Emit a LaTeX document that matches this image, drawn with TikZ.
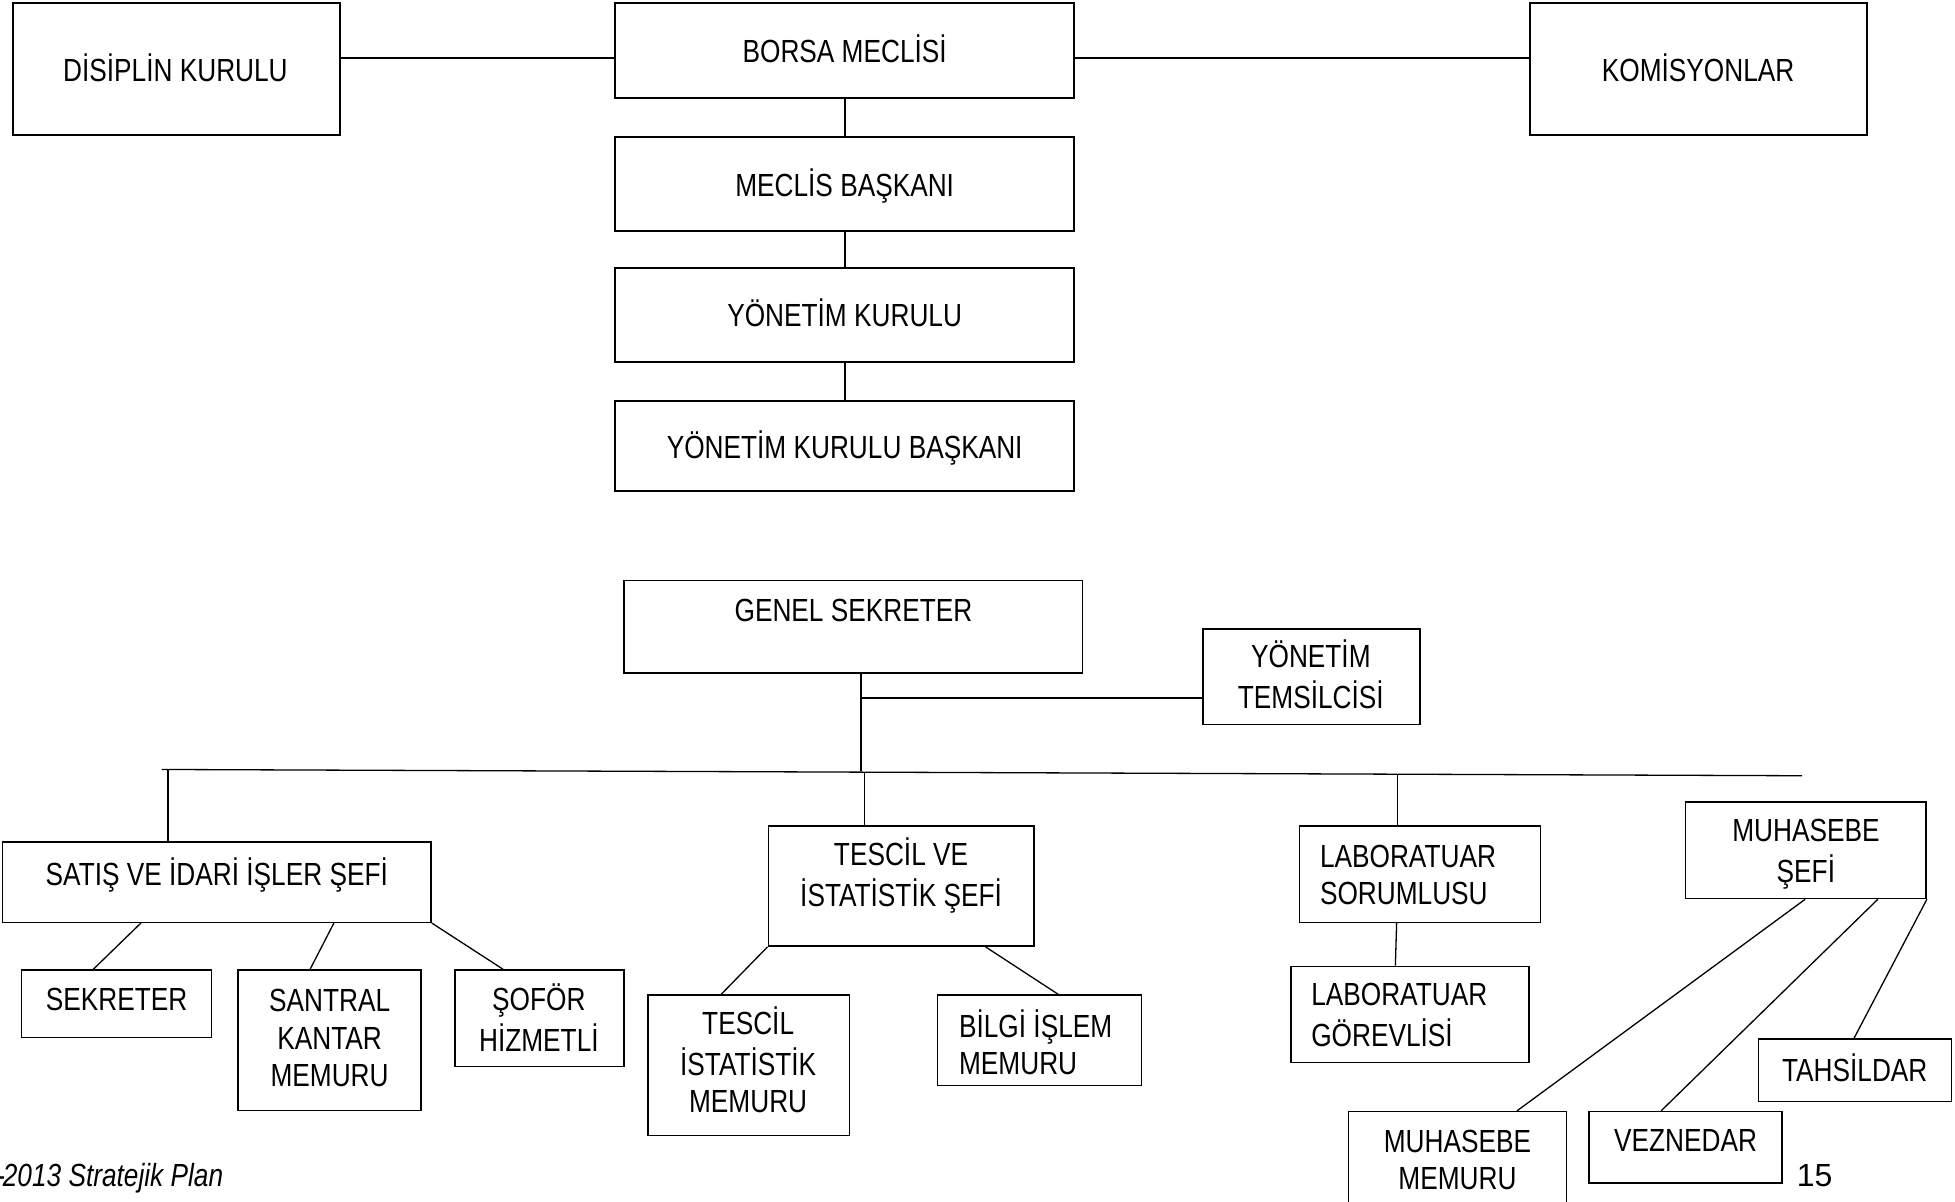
\documentclass[tikz,border=0pt]{standalone}
\usepackage{fontspec}
\setmainfont{Liberation Sans}[FakeStretch=0.82]
\newfontfamily\plainfont{Liberation Sans}
\usetikzlibrary{fit,calc}
\newcommand{\lbl}{\fontsize{16}{18.6}\selectfont}
\tikzset{
  boxU/.style={draw, line width=1pt, inner sep=0pt},
  boxL/.style={draw, line width=0.7pt, inner sep=0pt},
  conU/.style={line width=0.95pt},
  conL/.style={line width=0.65pt},
  txt/.style={inner sep=0pt, align=center, font=\lbl, yshift=-2pt},
  txtl/.style={inner sep=0pt, align=left, font=\lbl, yshift=-2pt, anchor=west},
}
\newcommand{\mkbox}[6]{\node[#1, fit={(#3,#4) (#5,#6)}] (#2) {};}
\begin{document}
\begin{tikzpicture}[x=0.6266pt,y=-0.6266pt]
\useasboundingbox (0,0) rectangle (1560,958.4);
\clip (0,0) rectangle (1560,958.4);
% ---------- upper part ----------
\mkbox{boxU}{dis}{10}{2}{271}{108}
\mkbox{boxU}{bm}{491}{2}{857}{78}
\mkbox{boxU}{kom}{1221}{2}{1490}{108}
\mkbox{boxU}{mb}{491}{109}{857}{184}
\mkbox{boxU}{yk}{491}{214}{857}{289}
\mkbox{boxU}{ykb}{491}{320}{857}{392}
\node[txt] (dis-t) at (140,55) {\strut DİSİPLİN KURULU};
\node[txt] (bm-t) at (674,40) {\strut BORSA MECLİSİ};
\node[txt] (kom-t) at (1355,55) {\strut KOMİSYONLAR};
\node[txt] (mb-t) at (674,147) {\strut MECLİS BAŞKANI};
\node[txt] (yk-t) at (674,251) {\strut YÖNETİM KURULU};
\node[txt] (ykb-t) at (674,356) {\strut YÖNETİM KURULU BAŞKANI};
\draw[conU] ($(dis.east)+(0,-9)$) -- ($(bm.west)+(0,6)$);
\draw[conU] ($(bm.east)+(0,6)$) -- ($(kom.west)+(0,-9)$);
\draw[conU] (bm.south) -- (mb.north);
\draw[conU] (mb.south) -- (yk.north);
\draw[conU] (yk.south) -- (ykb.north);
% ---------- lower part ----------
\mkbox{boxL}{gs}{498}{463}{864}{537}
\mkbox{boxL}{yt}{960}{502}{1133}{578}
\node[txt] (gs-t) at (681,487) {\strut GENEL SEKRETER};
\node[txt] (yt-t) at (1046,539.5) {\strut YÖNETİM\\\strut TEMSİLCİSİ};
\coordinate (gsb) at (687,615);
\coordinate (yj) at (687,557);
\draw[conL] (gsb |- gs.south) -- (gsb);
\draw[conL] (yj) -- (yj -| yt.west);
\coordinate (busL) at (129,614);
\coordinate (busR) at (1438,619);
\draw[conL] (busL) -- (busR);
% heads
\mkbox{boxL}{sat}{2}{672}{344}{736}
\mkbox{boxL}{tis}{613}{659}{825}{755}
\mkbox{boxL}{ls}{1037}{659}{1229}{736}
\mkbox{boxL}{ms}{1345}{640}{1537}{717}
\node[txt] (sat-t) at (173,697) {\strut SATIŞ VE İDARİ İŞLER ŞEFİ};
\node[txt] (tis-t) at (719,697.5) {\strut TESCİL VE\\\strut İSTATİSTİK ŞEFİ};
\node[txtl] (ls-t) at (1053,698) {\strut LABORATUAR\\\strut SORUMLUSU};
\node[txt] (ms-t) at (1441,678.5) {\strut MUHASEBE\\\strut ŞEFİ};
\coordinate (d1) at (134,614);
\coordinate (d2) at (690,616);
\coordinate (d3) at (1115,618);
\draw[conL] (d1) -- (d1 |- sat.north);
\draw[conL] (d2) -- (d2 |- tis.north);
\draw[conL] (d3) -- (d3 |- ls.north);
% children
\mkbox{boxL}{sek}{17}{774}{169}{828}
\mkbox{boxL}{san}{190}{774}{336}{886}
\mkbox{boxL}{sof}{363}{774}{498}{851}
\mkbox{boxL}{tim}{517}{794}{678}{906}
\mkbox{boxL}{bim}{748}{794}{911}{866}
\mkbox{boxL}{lg}{1030}{771}{1220}{848}
\mkbox{boxL}{tah}{1403}{829}{1557}{879}
\mkbox{boxL}{vez}{1268}{887}{1422}{944}
\mkbox{boxL}{mm}{1076}{887}{1250}{985}
\node[txt] (sek-t) at (93,797) {\strut SEKRETER};
\node[txt] (san-t) at (263,828) {\strut SANTRAL\\\strut KANTAR\\\strut MEMURU};
\node[txt] (sof-t) at (430,813) {\strut ŞOFÖR\\\strut HİZMETLİ};
\node[txt] (tim-t) at (597,847) {\strut TESCİL\\\strut İSTATİSTİK\\\strut MEMURU};
\node[txtl] (bim-t) at (765,832.5) {\strut BİLGİ İŞLEM\\\strut MEMURU};
\node[txtl] (lg-t) at (1046,809.5) {\strut LABORATUAR\\\strut GÖREVLİSİ};
\node[txt] (tah-t) at (1480,853) {\strut TAHSİLDAR};
\node[txt] (vez-t) at (1345,910) {\strut VEZNEDAR};
\node[txt] (mm-t) at (1163,925.5) {\strut MUHASEBE\\\strut MEMURU};
\draw[conL] ($(sat.south west)+(111,0)$) -- ($(sek.north west)+(58,0)$);
\draw[conL] ($(sat.south west)+(265,0)$) -- ($(san.north west)+(58,0)$);
\draw[conL] (sat.south east) -- ($(sof.north west)+(39,0)$);
\draw[conL] (tis.south west) -- ($(tim.north west)+(59,0)$);
\draw[conL] ($(tis.south west)+(174,0)$) -- ($(bim.north west)+(97,0)$);
\draw[conL] ($(ls.south west)+(78,0)$) -- ($(lg.north west)+(84,0)$);
\draw[conL] ($(ms.south west)+(96,0)$) -- ($(mm.north west)+(135,0)$);
\draw[conL] ($(ms.south west)+(154,0)$) -- ($(vez.north west)+(58,0)$);
\draw[conL] (ms.south east) -- ($(tah.north west)+(77,0)$);
% footer
\node[inner sep=0pt, anchor=base west, font=\lbl\itshape] (foot) at (2,947) {\llap{2010-\kern-1pt}2013 Stratejik Plan};
\node[inner sep=0pt, anchor=base, font=\plainfont\fontsize{16}{18.6}\selectfont] (pg) at (1448,947) {15};
\end{tikzpicture}
\end{document}
